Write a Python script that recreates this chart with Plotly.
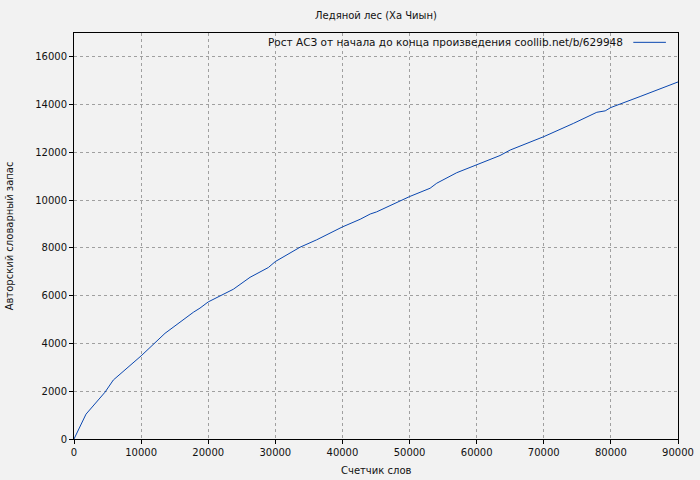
import plotly.graph_objects as go

title = "Ледяной лес (Ха Чиын)"
legend_text = "Рост АСЗ от начала до конца произведения coollib.net/b/629948"
x_label = "Счетчик слов"
y_label = "Авторский словарный запас"

words = [0, 1790, 4620, 5860, 10000, 11830, 13560, 17780, 18770, 20000, 21760,
         23740, 26230, 28960, 30000, 33180, 33680, 36160, 38650, 40000, 42640,
         44140, 45090, 48810, 50000, 53060, 54050, 57030, 59270, 60000, 62010,
         63480, 65000, 68500, 70000, 74460, 77900, 79150, 80000, 84350, 86860, 90000]
vocab = [0, 1040, 1960, 2470, 3480, 3965, 4425, 5305, 5480, 5740, 6000,
         6270, 6770, 7180, 7430, 7920, 8030, 8340, 8710, 8880, 9200,
         9420, 9510, 9980, 10150, 10500, 10710, 11150, 11410, 11490, 11715,
         11870, 12100, 12480, 12660, 13220, 13680, 13740, 13880, 14340, 14620, 14950]

x_ticks = list(range(0, 90001, 10000))
y_ticks = list(range(0, 16001, 2000))

line_color = "#0a47b0"
font = dict(family="DejaVu Sans", size=10, color="#111111")
legend_font = dict(family="DejaVu Sans", size=10.5, color="#111111")

fig = go.Figure()
fig.add_trace(go.Scatter(x=words, y=vocab, mode="lines",
                         line=dict(color=line_color, width=1),
                         showlegend=False, hoverinfo="skip"))

axis_common = dict(showline=True, linecolor="black", linewidth=1, mirror=True,
                   ticks="outside", ticklen=4, tickcolor="black",
                   showgrid=True, gridcolor="#a0a0a0", griddash="dot", gridwidth=1,
                   zeroline=False, tickfont=font, automargin=False)

fig.update_xaxes(range=[0, 90000], tickvals=x_ticks, ticktext=[str(v) for v in x_ticks],
                 **axis_common)
fig.update_yaxes(range=[0, 17000], tickvals=y_ticks, ticktext=[str(v) for v in y_ticks],
                 **axis_common)

# axis titles
fig.add_annotation(text=x_label, xref="paper", yref="paper", x=0.5, y=-0.077,
                   xanchor="center", yanchor="middle", showarrow=False, font=font)
fig.add_annotation(text=y_label, xref="paper", yref="paper", x=-0.107, y=0.5,
                   xanchor="center", yanchor="middle", showarrow=False, font=font,
                   textangle=-90)

# legend
fig.add_annotation(text=legend_text, xref="paper", yref="paper", x=0.912, y=0.977,
                   xanchor="right", yanchor="middle", showarrow=False, font=legend_font)
fig.add_shape(type="line", xref="paper", yref="paper", x0=0.926, x1=0.98, y0=0.977, y1=0.977,
              line=dict(color=line_color, width=1))

fig.update_layout(
    width=700, height=480,
    margin=dict(l=74, r=22, t=33, b=41),
    paper_bgcolor="#f2f2f2", plot_bgcolor="#f2f2f2",
    title=dict(text=title, xref="paper", x=0.5, xanchor="center", y=0.967, yanchor="middle", font=font),
    font=font,
)

fig.write_html("out.html", config={"displayModeBar": False},
               post_script="document.body.style.margin='0';document.body.style.overflow='hidden';")
